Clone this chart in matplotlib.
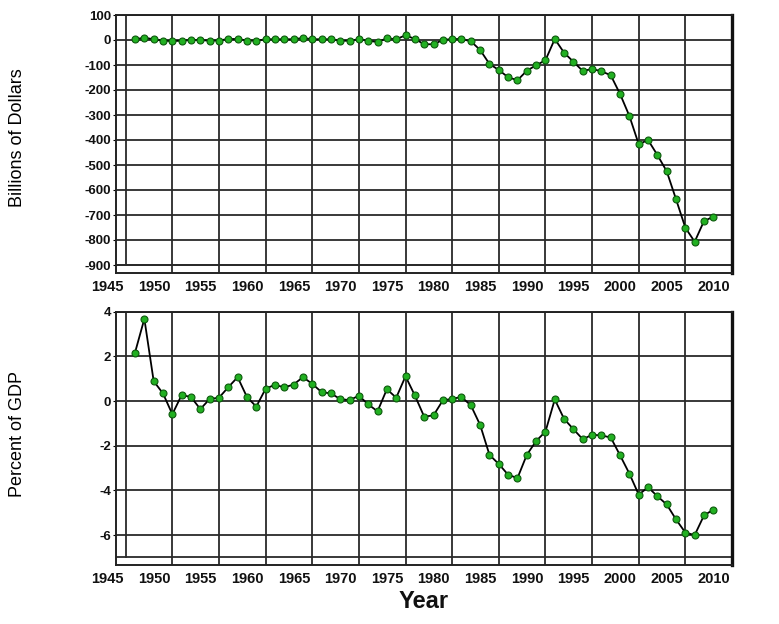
import numpy as np
import matplotlib
matplotlib.use("Agg")
import matplotlib.pyplot as plt
from matplotlib.transforms import ScaledTranslation

plt.rcParams['font.family'] = ['Liberation Sans', 'DejaVu Sans']
plt.rcParams['axes.unicode_minus'] = False

years = list(range(1946, 2009))

billions = [3, 9, 3, -3, -4, -3, 0, 0, -3, -2, 4, 4, -2, -3, 3, 3, 3, 3, 8, 3,
            3, 3, -3, -3, 3, -3, -8, 7, 3, 19, 4, -17, -17, 0, 4, 4, -5, -40,
            -96, -120, -149, -161, -123, -101, -81, 4, -51, -87, -124, -116,
            -125, -141, -216, -304, -417, -400, -460, -525, -637, -751, -807,
            -724, -707]

pct_gdp = [2.17, 3.68, 0.89, 0.34, -0.59, 0.27, 0.18, -0.36, 0.09, 0.15, 0.62,
           1.07, 0.18, -0.25, 0.55, 0.73, 0.61, 0.74, 1.07, 0.77, 0.40, 0.34,
           0.09, 0.04, 0.24, -0.15, -0.46, 0.53, 0.15, 1.11, 0.25, -0.70,
           -0.64, 0.03, 0.10, 0.18, -0.19, -1.07, -2.41, -2.82, -3.30, -3.45,
           -2.41, -1.79, -1.37, 0.07, -0.80, -1.26, -1.71, -1.51, -1.54, -1.63,
           -2.43, -3.25, -4.19, -3.86, -4.26, -4.63, -5.30, -5.89, -6.00,
           -5.12, -4.86]

x_grid = list(range(1945, 2011, 5))
top_yticks = list(range(100, -901, -100))
bot_yticks = [4, 2, 0, -2, -4, -6]

W, H = 779, 624
fig = plt.figure(figsize=(W / 100, H / 100), dpi=100)

def px_axes(left, top, right, bottom):
    return fig.add_axes([left / W, 1 - bottom / H, (right - left) / W, (bottom - top) / H])

ax1 = px_axes(116, 15, 732, 273)
ax2 = px_axes(116, 311.7, 732, 565)

grid_col = '#2a2a2a'
mk_face = '#22b022'
mk_edge = '#0d5a0d'

def style(ax, yticks, ylim, low_line):
    ax.set_xlim(1943.96, 2010)
    ax.set_ylim(*ylim)
    ax.set_yticks(yticks)
    ax.set_xticks(x_grid)
    ax.grid(True, axis='y', color=grid_col, linewidth=1.3)
    frac = (low_line - ylim[0]) / (ylim[1] - ylim[0])
    for xv in x_grid:
        if xv == x_grid[0]:
            ax.axvline(xv, ymin=frac, ymax=1, color=grid_col, linewidth=1.3, zorder=1)
        else:
            ax.axvline(xv, color=grid_col, linewidth=1.3, zorder=1)
    ax.axhline(low_line, color=grid_col, linewidth=1.3, zorder=1)
    ax.set_axisbelow(True)
    for s in ['left', 'bottom', 'top']:
        ax.spines[s].set_linewidth(1.4)
        ax.spines[s].set_color('#222222')
    ax.spines['right'].set_linewidth(2.4)
    ax.spines['right'].set_color('#111111')
    ax.tick_params(axis='x', length=0, pad=5, labelsize=10.5)
    ax.tick_params(axis='y', length=2, pad=1.5, labelsize=9.5)
    for lab in ax.get_xticklabels() + ax.get_yticklabels():
        lab.set_fontweight('bold')
        lab.set_color('#111111')
    off = ScaledTranslation(-0.183, 0, fig.dpi_scale_trans)
    for lab in ax.get_xticklabels():
        lab.set_transform(lab.get_transform() + off)

style(ax1, top_yticks, (-932, 100), -900)
style(ax2, bot_yticks, (-7.34, 4), -7)

for ax, vals in ((ax1, billions), (ax2, pct_gdp)):
    ax.plot(years, vals, color='black', linewidth=1.3, marker='o', markersize=5,
            markerfacecolor=mk_face, markeredgecolor=mk_edge, markeredgewidth=0.8,
            zorder=3)

fig.text(18 / W, 1 - 138 / H, 'Billions of Dollars', rotation=90, ha='center',
         va='center', fontsize=13)
fig.text(18 / W, 1 - 434 / H, 'Percent of GDP', rotation=90, ha='center',
         va='center', fontsize=13)
fig.text(424 / W, 1 - 602 / H, 'Year', ha='center', va='center', fontsize=17,
         fontweight='bold', color='#111111')

fig.savefig('out.png', dpi=100, facecolor='white')
